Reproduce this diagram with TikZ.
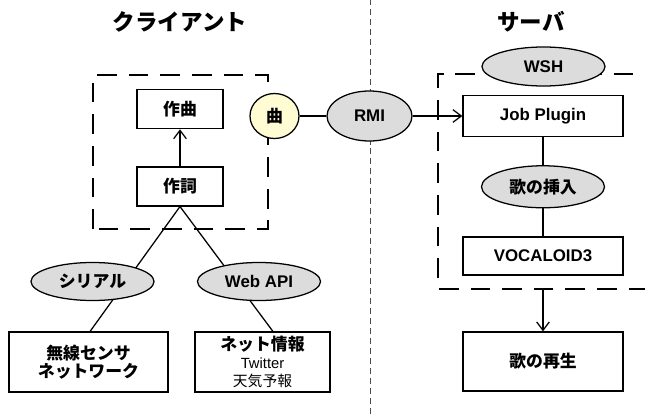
\documentclass[tikz,border=0pt]{standalone}
\usepackage{fontspec}
\setmainfont{Liberation Sans}
\newfontfamily\jp{Noto Sans CJK JP}
\usetikzlibrary{positioning, arrows.meta, shapes.geometric}

\definecolor{protogray}{HTML}{DCDCDC}
\definecolor{songyellow}{HTML}{FFFBD2}

\begin{document}
\begin{tikzpicture}[
    box/.style={draw, line width=0.9pt, fill=white, font=\bfseries\large, minimum width=4cm, minimum height=1cm, inner sep=1pt},
    proto/.style={ellipse, draw, line width=0.9pt, fill=protogray, font=\bfseries\large, minimum width=3.075cm, minimum height=0.95cm, inner sep=1pt},
    song/.style={ellipse, draw, line width=0.9pt, fill=songyellow, font=\bfseries\large, minimum width=1.225cm, minimum height=1.125cm, inner sep=1pt},
    title/.style={font=\bfseries\fontsize{16}{19}\selectfont},
    group/.style={line width=2pt, dash pattern=on 14pt off 8.5pt},
    divider/.style={line width=0.5pt, black!70, dash pattern=on 4.3pt off 2.8pt},
    flow/.style={line width=0.9pt},
    arr/.style={flow, -{Straight Barb[length=6pt, width=9pt]}}
]
    \useasboundingbox (0,0) rectangle (16.125,10.35);
    \clip (0,0) rectangle (16.125,10.35);

    % headings
    \node[title] (client) at (4.5,9.8) {\jp クライアント};
    \node[title] (server) at (13.275,9.8) {\jp サーバ};

    % divider and groups
    \draw[divider] (9.25,0) -- (9.25,10.35);
    \draw[group] (2.325,4.625) rectangle (6.7,8.475);
    \draw[group] (17,3.125) -- (10.95,3.125) -- (10.95,8.5) -- (17,8.5);

    % client side
    \node[box, minimum width=2.15cm, minimum height=0.975cm] (sakushi) at (4.5,5.69) {\jp 作詞};
    \node[box, minimum width=2.15cm, minimum height=0.975cm, above=0.925cm of sakushi] (sakkyoku) {\jp 作曲};
    \draw[arr] (sakushi) -- (sakkyoku);

    \node[box, minimum width=3.975cm, minimum height=1.5cm, align=center, font=\bfseries\jp\fontsize{12}{13}\selectfont] (sensor) at (2.2125,1.3)
        {無線センサ\\ネットワーク};
    \node[box, minimum width=3.375cm, minimum height=1.5cm, align=center, font=\fontsize{10.5}{12.5}\selectfont] (netinfo) at (6.5625,1.3)
        {{\bfseries\jp\fontsize{12}{13}\selectfont ネット情報}\\Twitter\\{\jp 天気予報}};
    \draw[flow] (sakushi.south) -- ([xshift=0.04cm]sensor.north);
    \draw[flow] (sakushi.south) -- ([xshift=0.26cm]netinfo.north);
    \node[proto] (serial) at (2.3125,3.3125) {\jp シリアル};
    \node[proto] (webapi) at (6.475,3.3125) {Web API};

    % link to the server
    \node[song] (kyoku) at (6.8625,7.45) {\jp 曲};
    \node[proto, minimum width=2.125cm, minimum height=1.25cm] (rmi) at (9.2375,7.45) {RMI};
    \node[box, minimum height=1.025cm] (plugin) at (13.575,7.45) {Job Plugin};
    \draw[flow] (kyoku) -- (rmi);
    \draw[arr] (rmi) -- (plugin);

    % server side
    \node[proto, minimum height=0.975cm] (wsh) at (13.5875,8.6875) {WSH};
    \node[proto, minimum height=1.05cm, below=0.7cm of plugin] (insert) {\jp 歌の挿入};
    \node[box, minimum height=0.95cm, below=0.7cm of insert] (vocaloid) {VOCALOID3};
    \draw[flow] (plugin) -- (insert) -- (vocaloid);

    \coordinate (exit) at (13.575,3.125);
    \node[box, minimum height=1.475cm] (play) at (13.575,1.3125) {\jp 歌の再生};
    \draw[arr] (exit) -- (play);
\end{tikzpicture}
\end{document}
